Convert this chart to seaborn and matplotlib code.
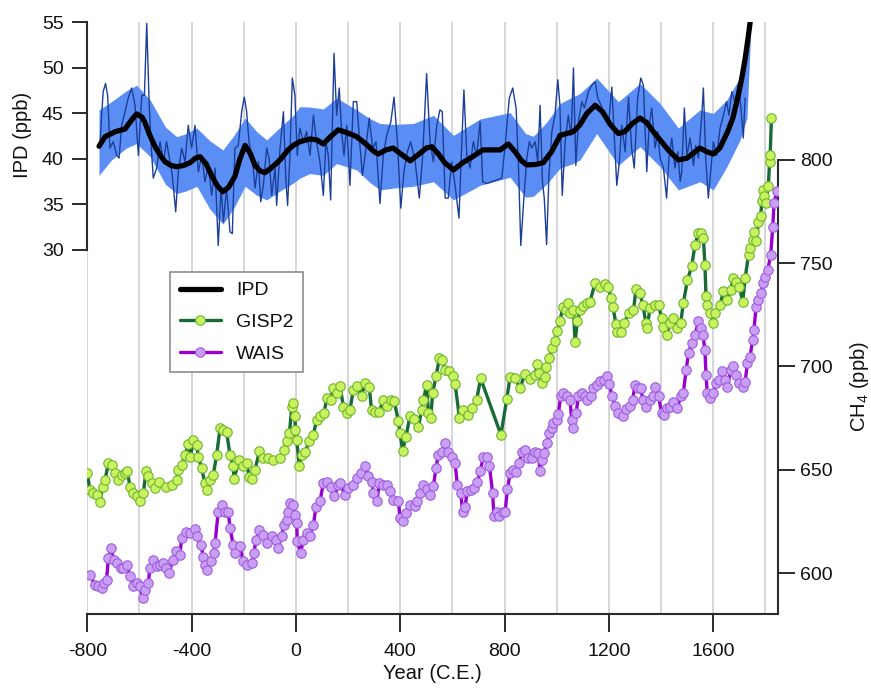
import matplotlib
matplotlib.use("Agg")
import matplotlib.pyplot as plt
import pandas as pd
import seaborn as sns

# ---------------- IPD record (ppb) ----------------
ipd_raw_year = [
    -751, -745, -739, -730, -722, -713, -700, -687, -678, -668, -655, -643, -630, -617, -604,
    -591, -581, -572, -563, -556, -547, -534, -521, -508, -496, -483, -474, -461, -451, -438,
    -425, -413, -400, -387, -374, -361, -349, -336, -323, -310, -298, -287, -278, -266, -253,
    -244, -234, -221, -208, -198, -189, -180, -167, -157, -144, -135, -125, -112, -103, -93,
    -80, -74, -61, -48, -39, -32, -23, -14, -4, 5, 15, 28, 41, 54, 67, 79, 92, 105, 115, 124,
    133, 146, 156, 166, 175, 184, 195, 207, 220, 233, 246, 255, 265, 281, 294, 307, 322, 335,
    348, 364, 376, 389, 402, 414, 427, 440, 457, 473, 486, 501, 514, 527, 540, 552, 561, 572,
    584, 597, 610, 625, 635, 644, 655, 667, 680, 693, 706, 716, 731, 789, 801, 818, 831, 844,
    853, 862, 872, 885, 895, 904, 917, 927, 936, 945, 952, 961, 970, 981, 993, 1004, 1012,
    1021, 1032, 1044, 1055, 1064, 1073, 1083, 1096, 1106, 1121, 1134, 1147, 1157, 1170, 1182,
    1198, 1211, 1223, 1230, 1240, 1249, 1262, 1275, 1287, 1297, 1310, 1322, 1332, 1345, 1354,
    1364, 1377, 1387, 1396, 1409, 1421, 1430, 1441, 1453, 1464, 1473, 1479, 1489, 1499, 1511,
    1524, 1533, 1543, 1556, 1562, 1571, 1581, 1591, 1600, 1613, 1626, 1639, 1651, 1660, 1671,
    1683, 1696, 1706, 1715, 1722,
]
ipd_raw_value = [
    41.5, 44.8, 47.4, 48.3, 47.0, 41.2, 41.9, 40.4, 40.1, 43.7, 45.2, 46.7, 47.8, 45.9, 40.4,
    47.0, 47.0, 54.9, 46.3, 41.9, 37.9, 39.0, 41.9, 39.7, 41.9, 39.7, 38.2, 34.2, 38.6, 41.2,
    39.7, 43.7, 41.2, 43.7, 38.6, 40.4, 37.5, 39.3, 36.0, 39.0, 30.5, 36.8, 33.1, 36.8, 32.0,
    31.8, 41.2, 41.5, 45.2, 46.8, 45.2, 41.9, 40.1, 36.8, 39.7, 35.3, 37.1, 41.2, 40.1, 36.0,
    39.0, 34.9, 41.2, 45.2, 37.9, 34.9, 40.4, 48.9, 47.0, 40.4, 43.4, 41.9, 43.0, 40.4, 44.8,
    41.9, 39.7, 36.0, 41.9, 40.4,
    35.5, 51.6, 44.8, 47.8, 43.0, 40.4, 43.7, 37.1, 46.3, 46.3, 41.2, 38.2, 40.4, 44.5, 41.2,
    41.9, 35.1, 40.4,
    42.6, 44.1, 46.8, 41.9, 34.6, 38.6, 40.8, 41.9, 39.7, 35.7, 40.4, 49.4, 41.9, 39.7, 43.7,
    45.4, 45.2, 35.7,
    35.7, 39.7, 37.1, 33.5, 41.2, 47.6, 40.4, 39.0, 41.9, 40.4, 44.1, 37.5, 37.3, 37.9, 41.2,
    46.7, 47.8, 45.6,
    39.3, 30.5, 34.9, 40.1, 41.9, 41.2, 41.9, 39.7, 45.9, 37.5, 35.7, 30.6, 38.2, 43.0, 44.8,
    48.7, 45.9,
    36.0, 41.9, 44.8, 42.6, 50.0, 39.3, 44.1, 46.3, 45.6, 47.4, 48.1, 48.5, 46.7, 45.9, 44.8,
    43.7, 47.9, 41.2, 37.1, 39.7, 43.7, 40.8, 46.8, 41.2, 39.0, 46.7, 48.9, 48.1, 38.6, 43.7,
    45.6, 41.2, 43.0, 40.1, 39.0, 35.7, 40.1, 42.3, 39.0, 40.8, 37.5, 38.6, 45.6, 40.4, 42.3,
    39.3, 41.5, 40.1, 44.8, 47.8, 40.1, 35.7, 39.0, 41.9, 40.4, 43.4, 44.8, 46.3, 44.8, 47.4,
    46.3, 48.1, 45.6, 42.3, 46.7,
]

ipd_smooth_year = [
    -755, -732, -693, -655, -630, -611, -590, -579, -560, -540, -520, -502, -480, -457, -430,
    -406, -385, -368, -345, -322, -300, -280, -258, -234, -215, -195, -175, -157, -138, -119,
    -95, -61, -30, -10, 15, 54, 80, 105, 130, 162, 195, 233, 270, 300, 316, 345, 373, 400,
    438, 470, 500, 521, 545, 570, 604, 640, 680, 717, 783, 814, 840, 865, 885, 920, 948, 980,
    1013, 1063, 1089, 1115, 1147, 1175, 1205, 1236, 1260, 1290, 1319, 1345, 1370, 1396, 1430,
    1466, 1500, 1530, 1549, 1575, 1600, 1625, 1655, 1675, 1696, 1710, 1722, 1732, 1742,
]
ipd_smooth_value = [
    41.4, 42.45, 43.0, 43.3, 44.3, 44.95, 44.6, 44.0, 42.6, 41.35, 40.4, 39.7, 39.3, 39.15, 39.3,
    39.6, 40.1, 40.25, 39.5, 38.1, 37.0, 36.4, 36.9, 38.1, 40.0, 41.5, 40.6, 39.3, 38.7, 38.5,
    39.0, 39.9, 41.0, 41.5, 41.9, 42.2, 42.1, 41.65, 42.4, 43.2, 42.9, 42.45, 41.6, 40.8, 40.55,
    41.0, 41.2, 40.6, 39.8, 40.5, 41.2, 41.35, 40.6, 39.6, 38.8, 39.6, 40.3, 41.0, 41.0, 41.65,
    40.8, 39.8, 39.35, 39.4, 39.6, 40.8, 42.6, 43.0, 43.75, 45.0, 45.9, 45.2, 43.8, 42.8, 43.0,
    43.9, 44.5, 44.0, 43.0, 42.1, 40.9, 39.9, 40.1, 40.8, 41.2, 40.8, 40.55, 41.2, 43.0, 44.5,
    47.0, 49.0, 51.0, 53.0, 55.2,
]

ipd_band_year = [
    -755, -707, -650, -611, -559, -500, -457, -420, -380, -330, -280, -240, -195, -150, -112,
    -60, -10, 15, 54, 105, 156, 233, 280, 322, 373, 450, 527, 604, 706, 821, 880, 910, 960,
    1013, 1063, 1089, 1153, 1236, 1319, 1396, 1466, 1549, 1600, 1652, 1703, 1729, 1742,
]
ipd_band_upper = [
    45.4, 46.3, 47.5, 48.1, 46.5, 43.5, 42.45, 42.8, 43.4, 42.0, 41.0, 42.5, 44.5, 43.0, 42.1,
    43.5, 44.8, 45.75, 45.7, 45.5, 46.7, 45.4, 44.5, 43.9, 43.8, 43.9, 44.8, 42.6, 44.4, 45.1,
    42.8, 42.5, 44.0, 46.1, 46.85, 47.2, 48.9, 46.3, 48.3, 46.1, 43.4, 45.4, 45.0, 46.5, 49.0,
    51.25, 55.5,
]
ipd_band_lower = [
    38.2, 39.9, 41.2, 41.7, 40.25, 37.2, 36.2, 36.5, 37.0, 34.5, 32.85, 34.5, 37.0, 36.0, 35.5,
    36.5, 37.35, 37.9, 38.4, 38.2, 39.5, 38.8, 37.5, 36.6, 36.8, 37.0, 37.5, 35.5, 37.1, 38.0,
    35.8, 35.9, 37.2, 39.0, 39.5, 39.9, 42.8, 39.3, 41.35, 39.15, 36.6, 37.5, 36.6, 39.15, 42.1,
    44.5, 53.0,
]

# ---------------- CH4 records (ppb) ----------------
gisp2_year = [
    -800, -790, -777, -764, -751, -741, -732, -719, -707, -694, -681, -668, -655, -647, -636,
    -624, -611, -598, -585, -575, -566, -553, -540, -524, -498, -477, -457, -451, -438, -425,
    -413, -405, -393, -381, -374, -362, -349, -342, -330, -317, -304, -291, -279, -266, -253,
    -240, -238, -217, -204, -189, -179, -170, -157, -140, -125, -106, -87, -61, -46, -36, -25,
    -16, -10, -4, -2, 3, 13, 22, 35, 51, 67, 79, 92, 108, 118, 133, 143, 156, 169, 182, 197,
    207, 220, 235, 252, 265, 281, 290, 303, 320, 335, 348, 363, 377, 393, 399, 409, 422, 437,
    453, 469, 482, 489, 501, 508, 517, 524, 537, 550, 559, 572, 588, 601, 610, 627, 642, 658,
    674, 693, 708, 786, 808, 821, 840, 859, 878, 898, 917, 926, 933, 942, 955, 959, 972, 981,
    993, 1002, 1012, 1023, 1035, 1044, 1051, 1064, 1070, 1079, 1089, 1102, 1115, 1127, 1147,
    1166, 1185, 1198, 1207, 1215, 1227, 1232, 1245, 1258, 1275, 1294, 1304, 1319, 1330, 1342,
    1345, 1358, 1377, 1390, 1402, 1409, 1421, 1434, 1447, 1462, 1475, 1485, 1501, 1517, 1530,
    1543, 1552, 1562, 1568, 1572, 1577, 1588, 1600, 1607, 1626, 1639, 1652, 1667, 1677, 1687,
    1700, 1713, 1722, 1735, 1741, 1751, 1756, 1764, 1773, 1782, 1786, 1790, 1796, 1802, 1811,
    1816, 1818, 1823,
]
gisp2_value = [
    648.4, 640.3, 638.7, 637.9, 634.2, 641.9, 645.1, 653.2, 652.4, 648.4, 645.1, 647.6, 648.4,
    649.2, 641.9, 638.7, 637.1, 634.7, 638.7, 649.2, 646.8, 643.5, 641.1, 644.3, 641.9, 642.7,
    645.1, 650.0, 652.4, 657.2, 662.5, 656.0, 664.5, 662.1, 656.4, 650.8, 643.5, 640.3, 645.1,
    647.6, 657.2, 670.1, 669.3, 668.5, 657.2, 651.6, 645.5, 654.8, 651.6, 653.2, 646.4, 645.5,
    650.0, 658.9, 655.6, 655.6, 654.8, 655.6, 659.7, 663.7, 667.7, 680.6, 682.2, 675.8, 669.3,
    664.5, 651.6, 657.2, 658.8, 663.7, 666.9, 674.2, 675.8, 677.4, 684.7, 683.9, 689.5, 687.1,
    690.5, 680.6, 677.4, 679.0, 688.7, 690.6, 685.8, 692.2, 690.0, 679.0, 678.2, 678.2, 683.9,
    681.0, 683.9, 683.1, 673.4, 667.7, 659.3, 666.1, 675.8, 674.5, 670.6, 679.0, 683.9, 691.1,
    677.4, 675.0, 687.1, 695.2, 704.0, 703.2, 698.4, 697.6, 695.2, 691.6, 675.0, 679.0, 676.6,
    679.8, 683.9, 694.3, 666.9, 684.2, 694.8, 694.3, 689.5, 696.4, 693.9, 696.0, 701.3, 696.8,
    691.9, 695.1, 699.7, 704.0, 708.9, 712.1, 717.4, 721.8, 728.7, 727.4, 730.6, 725.8, 727.4,
    712.0, 721.8, 727.4, 729.3, 730.6, 731.4, 740.3, 738.6, 740.0, 738.7, 733.1, 729.0, 720.5,
    716.9, 716.9, 720.9, 726.0, 727.2, 737.6, 735.5, 729.8, 721.0, 718.5, 728.2, 729.8, 729.8,
    723.4, 719.3, 715.3, 721.0, 723.4, 718.5, 721.0, 730.6, 741.9, 748.4, 758.9, 764.5, 764.8,
    762.1, 749.2, 733.9, 729.8, 725.8, 721.0, 725.8, 729.8, 736.3, 732.3, 737.1, 742.7, 741.1,
    738.4, 731.4, 742.7, 754.0, 757.3, 761.3, 765.3, 760.5, 769.7, 773.0, 780.0, 785.5, 782.3,
    779.0, 787.4, 799.2, 802.4, 820.3,
]

wais_year = [
    -790, -771, -758, -745, -736, -726, -719, -710, -698, -685, -672, -662, -649, -636, -624,
    -611, -598, -588, -579, -566, -560, -549, -534, -521, -508, -498, -486, -473, -460, -445,
    -438, -422, -406, -387, -381, -365, -355, -349, -342, -327, -314, -310, -298, -282, -272,
    -259, -253, -240, -234, -215, -202, -186, -170, -161, -153, -140, -125, -110, -93, -77,
    -68, -55, -46, -36, -29, -23, -13, -4, 3, 5, 18, 28, 41, 54, 67, 77, 92, 105, 118, 133,
    146, 163, 169, 188, 201, 218, 233, 248, 265, 278, 290, 297, 310, 320, 333, 348, 361, 373,
    393, 399, 409, 422, 437, 457, 465, 476, 488, 504, 514, 527, 537, 546, 559, 572, 584, 597,
    610, 619, 632, 639, 648, 657, 670, 683, 696, 706, 719, 731, 742, 754, 759, 772, 780, 793,
    802, 811, 821, 834, 844, 857, 866, 878, 891, 904, 917, 929, 936, 942, 951, 961, 972, 981,
    987, 1000, 1006, 1015, 1025, 1038, 1051, 1057, 1064, 1074, 1083, 1096, 1108, 1117, 1130,
    1140, 1153, 1166, 1181, 1191, 1202, 1211, 1223, 1236, 1253, 1266, 1281, 1291, 1300, 1313,
    1322, 1330, 1342, 1358, 1368, 1377, 1390, 1402, 1411, 1421, 1434, 1447, 1462, 1475, 1485,
    1496, 1505, 1517, 1530, 1543, 1552, 1560, 1568, 1572, 1577, 1588, 1598, 1611, 1623, 1634,
    1645, 1654, 1667, 1677, 1687, 1700, 1713, 1722, 1731, 1741, 1751, 1756, 1764, 1773, 1782,
    1792, 1798, 1809, 1820, 1828, 1833, 1843,
]
wais_value = [
    599.2, 594.3, 593.5, 592.7, 595.1, 596.8, 607.2, 612.1, 606.4, 604.8, 602.4, 602.4, 604.0,
    598.4, 593.5, 595.1, 593.5, 587.9, 591.9, 595.1, 602.4, 606.4, 603.2, 604.0, 604.8, 602.4,
    600.0, 606.4, 610.5, 608.9, 616.9, 620.1, 619.3, 621.3, 617.7, 613.7, 608.0, 604.0, 601.6,
    605.6, 609.7, 614.5, 629.8, 633.0, 629.8, 629.8, 621.8, 613.7, 609.7, 612.9, 605.6, 604.0,
    604.8, 609.7, 616.1, 621.0, 618.5, 614.5, 617.7, 616.1, 612.1, 617.7, 623.4, 625.8, 629.8,
    633.8, 633.0, 628.2, 624.2, 615.3, 609.7, 616.1, 619.3, 617.7, 623.4, 632.2, 634.7, 643.5,
    644.3, 641.9, 637.1, 642.7, 643.5, 637.9, 641.1, 642.7, 646.0, 648.4, 651.6, 647.1, 644.3,
    638.7, 634.7, 643.5, 642.7, 642.7, 639.5, 635.5, 634.7, 626.6, 625.0, 629.0, 633.0, 632.6,
    634.7, 638.7, 642.7, 640.6, 637.9, 642.2, 650.8, 657.2, 658.8, 662.9, 658.8, 656.4, 653.2,
    642.7, 638.7, 629.8, 632.2, 639.5, 640.3, 641.1, 644.3, 649.2, 656.4, 656.4, 651.6, 638.7,
    627.4, 629.8, 627.4, 629.8, 629.8, 640.6, 648.4, 650.0, 648.7, 653.2, 658.8, 659.7, 655.6,
    655.6, 658.8, 658.0, 649.2, 654.8, 658.0, 663.0, 667.7, 670.1, 672.6, 674.2, 677.1, 685.5,
    687.1, 685.5, 683.9, 674.2, 670.1, 677.4, 685.8, 687.1, 685.5, 683.9, 685.5, 689.5, 691.1,
    692.9, 693.5, 695.2, 691.5, 685.5, 681.0, 677.5, 675.8, 679.5, 681.0, 684.0, 691.1, 689.5,
    689.5, 683.9, 680.6, 683.9, 685.5, 690.3, 685.5, 677.4, 676.6, 679.8, 680.6, 683.0, 679.8,
    685.5, 687.1, 698.4, 706.4, 711.3, 715.3, 721.8, 718.5, 715.3, 708.1, 696.0, 687.1, 684.7,
    687.1, 691.9, 693.5, 697.6, 693.5, 690.3, 698.4, 700.0, 696.0, 691.9, 690.3, 692.7, 701.6,
    704.8, 712.9, 717.7, 729.0, 732.3, 735.5, 740.3, 743.5, 746.8, 754.0, 767.7, 779.0, 784.7,
]

series_labels = ["IPD", "GISP2", "WAIS"]
ipd_ticks = [30, 35, 40, 45, 50, 55]
ch4_ticks = [600, 650, 700, 750, 800]
year_ticks = [-800, -400, 0, 400, 800, 1200, 1600]

raw_df = pd.DataFrame({"year": ipd_raw_year, "ipd": ipd_raw_value})
smooth_df = pd.DataFrame({"year": ipd_smooth_year, "ipd": ipd_smooth_value})
gisp2_df = pd.DataFrame({"year": gisp2_year, "ch4": gisp2_value})
wais_df = pd.DataFrame({"year": wais_year, "ch4": wais_value})

# ---------------- styling ----------------
sns.set_theme(style="ticks")
plt.rcParams["font.family"] = ["Liberation Sans", "DejaVu Sans"]
plt.rcParams["mathtext.fontset"] = "custom"
plt.rcParams["mathtext.rm"] = "Liberation Sans"
plt.rcParams["mathtext.it"] = "Liberation Sans:italic"
plt.rcParams["axes.unicode_minus"] = False
plt.rcParams["text.color"] = "#111111"
plt.rcParams["axes.labelcolor"] = "#111111"
plt.rcParams["xtick.color"] = "#2b2b2b"
plt.rcParams["ytick.color"] = "#2b2b2b"
plt.rcParams["xtick.labelcolor"] = "#111111"
plt.rcParams["ytick.labelcolor"] = "#111111"

spine_col = "#2b2b2b"
band_col = "#5b8ef5"
raw_col = "#1b3f98"
gisp_line, gisp_face, gisp_edge = "#186a36", "#c9f25e", "#6fb532"
wais_line, wais_face, wais_edge = "#9a00cc", "#c99ff3", "#a05ddf"

fig = plt.figure(figsize=(8.71, 6.88), dpi=100)
ax = fig.add_axes([0.1002, 0.1076, 0.7930, 0.8597])
ax2 = ax.twinx()

# IPD: uncertainty band, raw record, smoothed curve
ax.fill_between(ipd_band_year, ipd_band_lower, ipd_band_upper, color=band_col, lw=0, zorder=1)
sns.lineplot(data=raw_df, x="year", y="ipd", ax=ax, color=raw_col, lw=1.0,
             estimator=None, sort=False, legend=False, zorder=2)
sns.lineplot(data=smooth_df, x="year", y="ipd", ax=ax, color="black", lw=3.8,
             estimator=None, sort=False, legend=False, zorder=3, label=series_labels[0],
             solid_capstyle="round")

# CH4 records on the right axis
sns.lineplot(data=gisp2_df, x="year", y="ch4", ax=ax2, color=gisp_line, lw=2.4,
             estimator=None, sort=False, legend=False, label=series_labels[1],
             marker="o", markersize=6.8, markerfacecolor=gisp_face,
             markeredgecolor=gisp_edge, markeredgewidth=0.8, zorder=3)
sns.lineplot(data=wais_df, x="year", y="ch4", ax=ax2, color=wais_line, lw=2.4,
             estimator=None, sort=False, legend=False, label=series_labels[2],
             marker="o", markersize=6.8, markerfacecolor=wais_face,
             markeredgecolor=wais_edge, markeredgewidth=0.8, zorder=3)

# axes ranges
ax.set_xlim(-800, 1848)
ax.set_ylim(-10.0, 55.0)
ax2.set_ylim(580.2, 866.5)

# x axis: labelled ticks every 400 years, grid every 200 years
ax.set_xticks(year_ticks)
ax.set_xticks(list(range(-800, 1801, 200)), minor=True)
ax.grid(axis="x", which="both", color="#d6d6d6", lw=1.4)
ax.grid(axis="y", visible=False)
ax.set_axisbelow(True)
ax.tick_params(axis="x", which="major", direction="out", length=13, width=1.4,
               pad=8, labelsize=14)
ax.tick_params(axis="x", which="minor", length=0)

ax.set_yticks(ipd_ticks)
ax.tick_params(axis="y", which="major", direction="out", length=11, width=1.4,
               pad=6, labelsize=14, left=True)
ax2.set_yticks(ch4_ticks)
ax2.tick_params(axis="y", which="major", direction="out", length=12, width=1.4,
                pad=4, labelsize=14, right=True)

for s in ("top", "right"):
    ax.spines[s].set_visible(False)
for s in ("top", "left", "bottom"):
    ax2.spines[s].set_visible(False)
for sp in (ax.spines["left"], ax.spines["bottom"], ax2.spines["right"]):
    sp.set_color(spine_col)
    sp.set_linewidth(1.5)
ax.spines["left"].set_bounds(30, 55)
ax2.spines["right"].set_bounds(580.2, 800)

ax.set_xlabel("Year (C.E.)", fontsize=14.5, labelpad=3)
ax.set_ylabel("IPD (ppb)", fontsize=14.5)
ax.yaxis.set_label_coords(-0.080, 0.81)
ax2.set_ylabel("CH$_4$ (ppb)", fontsize=14.5)
ax2.yaxis.set_label_coords(1.101, 0.384)

# legend gathering both axes
h1, l1 = ax.get_legend_handles_labels()
h2, l2 = ax2.get_legend_handles_labels()
leg = ax2.legend(h1 + h2, l1 + l2, loc="upper left", bbox_to_anchor=(0.1197, 0.578),
                 borderaxespad=0, frameon=True, fancybox=False, fontsize=14,
                 handlelength=2.1, handletextpad=0.8, labelspacing=0.72,
                 borderpad=0.5, framealpha=1)
leg.get_frame().set_edgecolor("#8c8c8c")
leg.get_frame().set_linewidth(1.2)

fig.savefig("out.png", dpi=100)
